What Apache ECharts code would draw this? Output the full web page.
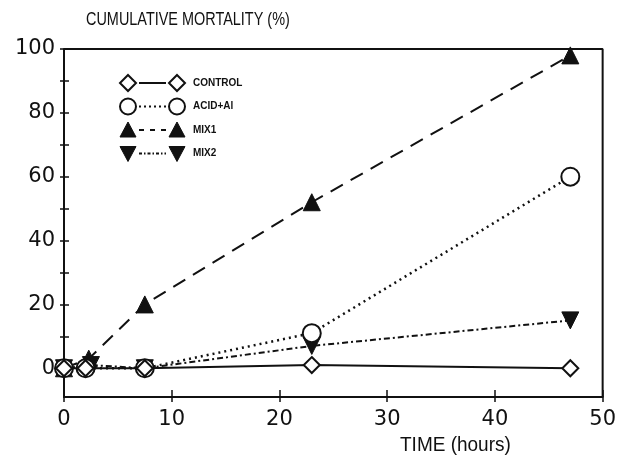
<!DOCTYPE html>
<html><head><meta charset="utf-8">
<script src="https://cdn.jsdelivr.net/npm/echarts@6/dist/echarts.min.js"></script>
<style>html,body{margin:0;padding:0;background:#fff}#c{width:619px;height:462px}</style>
</head><body><div id="c"></div>
<script>
var seriesNames = ['CONTROL', 'ACID+Al', 'MIX1', 'MIX2'];
var control = [[0,0],[2,0],[7.5,0],[23,1],[47,0]];
var acidAl = [[0,0],[2,0],[7.5,0],[23,11],[47,60]];
var mix1 = [[0,0],[2.3,3],[7.5,20],[23,52],[47,98]];
var mix2 = [[0,0],[2.5,1],[7.5,0],[23,7],[47,15]];
var xTicks = [0,10,20,30,40,50];
var yLabels = [0,20,40,60,80,100];
var yTicks = [0,10,20,30,40,50,60,70,80,90,100];
var yMin = -9, yMax = 100, xMin = 0, xMax = 50;

var chart = echarts.init(document.getElementById('c'));
var font = 'Liberation Sans, Arial, sans-serif';
var numFont = 'DejaVu Sans, sans-serif';
var tickStyle = {color: '#111', width: 1.5};

// legend built as graphic: symbol - line - symbol, text
var dashes = ['solid', [2, 3], [5, 6], [3, 2, 1.5, 2]];
function sym(kind, cx, cy) {
  var s = {stroke: '#111', lineWidth: 2, fill: '#fff'};
  if (kind === 0) return {type: 'polygon', shape: {points: [[cx, cy - 8], [cx + 8, cy], [cx, cy + 8], [cx - 8, cy]]}, style: s};
  if (kind === 1) return {type: 'circle', shape: {cx: cx, cy: cy, r: 8}, style: s};
  if (kind === 2) return {type: 'polygon', shape: {points: [[cx, cy - 8], [cx + 8, cy + 7], [cx - 8, cy + 7]]}, style: {fill: '#111', stroke: '#111', lineWidth: 1}};
  return {type: 'polygon', shape: {points: [[cx, cy + 8], [cx + 8, cy - 7], [cx - 8, cy - 7]]}, style: {fill: '#111', stroke: '#111', lineWidth: 1}};
}
var legendG = [];
seriesNames.forEach(function (n, i) {
  var cy = 83 + i * 23.5;
  legendG.push({type: 'line', shape: {x1: 139, y1: cy, x2: 166, y2: cy}, style: {stroke: '#111', lineWidth: 2, lineDash: dashes[i] === 'solid' ? null : dashes[i]}});
  legendG.push(sym(i, 128, cy));
  legendG.push(sym(i, 177, cy));
  legendG.push({type: 'text', x: 193, y: cy, style: {text: n, font: 'bold 10px ' + font, fill: '#111', verticalAlign: 'middle'}});
});

chart.setOption({
  animation: false,
  backgroundColor: '#fff',
  graphic: [
    {type: 'text', left: 86, top: 10, scaleX: 0.76, style: {text: 'CUMULATIVE MORTALITY (%)', font: '19px ' + font, fill: '#111'}},
    {type: 'text', left: 400, top: 435, scaleX: 0.95, style: {text: 'TIME (hours)', font: '20px ' + font, fill: '#111'}}
  ].concat(legendG),
  grid: {left: 64, right: 15, top: 49, bottom: 65, containLabel: false},
  xAxis: [{
    type: 'value', min: xMin, max: xMax,
    axisLine: {show: true, onZero: false, lineStyle: {color: '#111', width: 2}},
    axisTick: {show: true, inside: true, length: 7, customValues: xTicks, lineStyle: tickStyle},
    axisLabel: {customValues: xTicks, fontFamily: numFont, fontSize: 21, color: '#111', margin: 12},
    splitLine: {show: false}
  }, {
    type: 'value', min: xMin, max: xMax, position: 'bottom',
    axisLine: {show: false, onZero: false},
    axisTick: {show: true, inside: false, length: 5, customValues: xTicks, lineStyle: tickStyle},
    axisLabel: {show: false}, splitLine: {show: false}
  }],
  yAxis: [{
    type: 'value', min: yMin, max: yMax,
    axisLine: {show: true, onZero: false, lineStyle: {color: '#111', width: 2}},
    axisTick: {show: true, inside: true, length: 5, customValues: yTicks, lineStyle: tickStyle},
    axisLabel: {customValues: yLabels, fontFamily: numFont, fontSize: 21, color: '#111', margin: 9},
    splitLine: {show: false}
  }, {
    type: 'value', min: yMin, max: yMax, position: 'left',
    axisLine: {show: false, onZero: false},
    axisTick: {show: true, inside: false, length: 4, customValues: yTicks, lineStyle: tickStyle},
    axisLabel: {show: false}, splitLine: {show: false}
  }],
  series: [
    {name: 'CONTROL', type: 'line', data: control, symbol: 'diamond', symbolSize: 16,
     itemStyle: {color: '#fff', borderColor: '#111', borderWidth: 2},
     lineStyle: {color: '#111', width: 2, type: 'solid'}, z: 5},
    {name: 'ACID+Al', type: 'line', data: acidAl, symbol: 'circle', symbolSize: 18,
     itemStyle: {color: '#fff', borderColor: '#111', borderWidth: 2},
     lineStyle: {color: '#111', width: 2.5, type: [2, 4]}, z: 4},
    {name: 'MIX1', type: 'line', data: mix1, symbol: 'triangle', symbolSize: 17,
     itemStyle: {color: '#111', borderColor: '#111', borderWidth: 1},
     lineStyle: {color: '#111', width: 2, type: [14, 9]}, z: 3},
    {name: 'MIX2', type: 'line', data: mix2, symbol: 'triangle', symbolRotate: 180, symbolSize: 17,
     itemStyle: {color: '#111', borderColor: '#111', borderWidth: 1},
     lineStyle: {color: '#111', width: 2, type: [6, 3, 2, 3]}, z: 3},
    {type: 'line', data: [[xMin, yMax], [xMax, yMax], [xMax, yMin]], symbol: 'none', silent: true,
     lineStyle: {color: '#111', width: 2}}
  ]
});
</script></body></html>
